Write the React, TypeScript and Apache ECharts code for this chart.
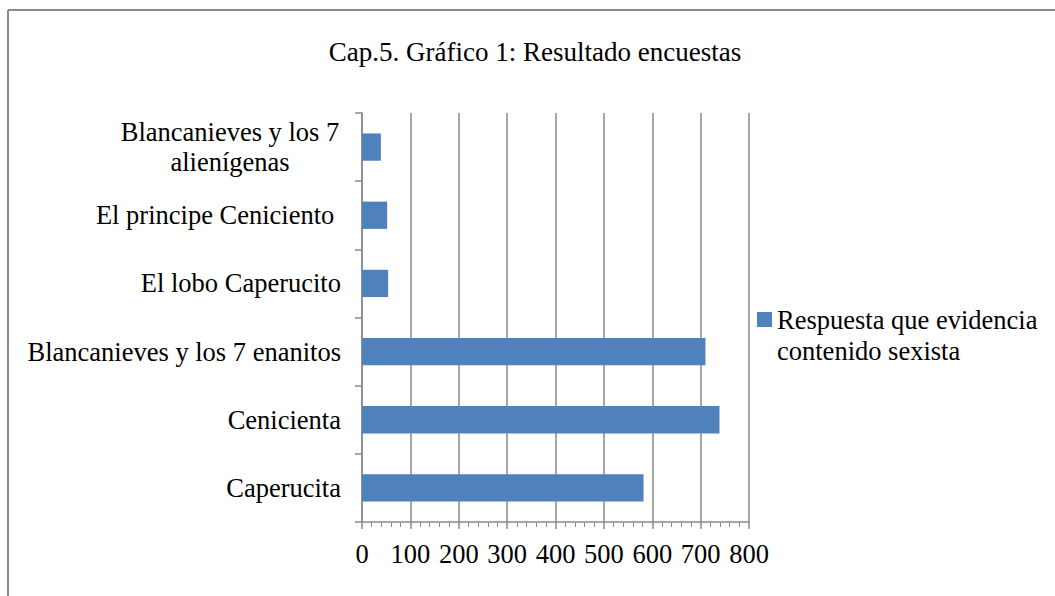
import React, { useEffect, useRef } from "react";
import * as echarts from "echarts";

const titleText = "Cap.5. Gráfico 1: Resultado encuestas";
const seriesName = "Respuesta que evidencia contenido sexista";
// bottom-to-top order (as drawn on the category axis)
const categories = [
  "Caperucita",
  "Cenicienta",
  "Blancanieves y los 7 enanitos",
  "El lobo Caperucito",
  "El principe Ceniciento ",
  "Blancanieves y los 7\nalienígenas",
];
const values = [582, 739, 710, 54, 52, 39];
const xTicks = [0, 100, 200, 300, 400, 500, 600, 700, 800];

const FONT = "'Liberation Serif', 'Times New Roman', serif";
const GRAY = "#8a8a8a";
const FS = 26.5;

export default function App() {
  const ref = useRef<HTMLDivElement>(null);
  useEffect(() => {
    if (!ref.current) return;
    const chart = echarts.init(ref.current, undefined, { renderer: "svg" });
    chart.setOption({
      animation: false,
      backgroundColor: "#ffffff",
      textStyle: { fontFamily: FONT },
      title: {
        text: titleText,
        left: 530,
        textAlign: "center",
        top: 33,
        textStyle: { fontFamily: FONT, fontSize: 27, fontWeight: "normal", color: "#000" },
      },
      legend: {
        left: 752,
        top: 268,
        orient: "vertical",
        icon: "rect",
        itemWidth: 15,
        itemHeight: 15,
        itemGap: 6,
        formatter: () => "\nRespuesta que evidencia\ncontenido sexista",
        textStyle: {
          fontFamily: FONT,
          fontSize: FS,
          color: "#000",
          lineHeight: 31,
        },
        data: [seriesName],
      },
      graphic: [
        { type: "line", shape: { x1: 8, y1: 10, x2: 1055, y2: 10 }, style: { stroke: GRAY, lineWidth: 2 } },
        { type: "line", shape: { x1: 8, y1: 10, x2: 8, y2: 596 }, style: { stroke: GRAY, lineWidth: 2 } },
      ],
      grid: { left: 362, right: 306, top: 113, bottom: 74, containLabel: false },
      xAxis: {
        type: "value",
        min: xTicks[0],
        max: xTicks[xTicks.length - 1],
        interval: 100,
        axisLine: { show: true, lineStyle: { color: GRAY, width: 1.5 } },
        axisTick: { show: true, length: 7, lineStyle: { color: GRAY, width: 1.5 } },
        minorTick: { show: true, splitNumber: 5, length: 5, lineStyle: { color: GRAY, width: 1 } },
        splitLine: { show: true, lineStyle: { color: GRAY, width: 1.5 } },
        axisLabel: { fontFamily: FONT, fontSize: FS, color: "#000", margin: 18 },
      },
      yAxis: {
        type: "category",
        data: categories,
        axisLine: { show: true, lineStyle: { color: GRAY, width: 1.5 } },
        axisTick: { show: true, length: 7, lineStyle: { color: GRAY, width: 1.5 } },
        axisLabel: {
          fontFamily: FONT,
          fontSize: FS,
          color: "#000",
          margin: 21,
          lineHeight: 30,
          formatter: (v: string) => {
            if (v.indexOf("\n") >= 0) {
              return v
                .split("\n")
                .map((s) => "{c|" + s + "}")
                .join("\n");
            }
            return v;
          },
          rich: {
            c: { width: 222, align: "center", fontFamily: FONT, fontSize: FS, color: "#000", lineHeight: 30 },
          },
        },
      },
      series: [
        {
          name: seriesName,
          type: "bar",
          data: values,
          barCategoryGap: "60%",
          itemStyle: { color: "#4F81BD" },
        },
      ],
    });
    return () => chart.dispose();
  }, []);
  return (
    <div
      ref={ref}
      style={{ position: "fixed", left: 0, top: 0, width: 1055, height: 596, background: "#fff" }}
    />
  );
}
